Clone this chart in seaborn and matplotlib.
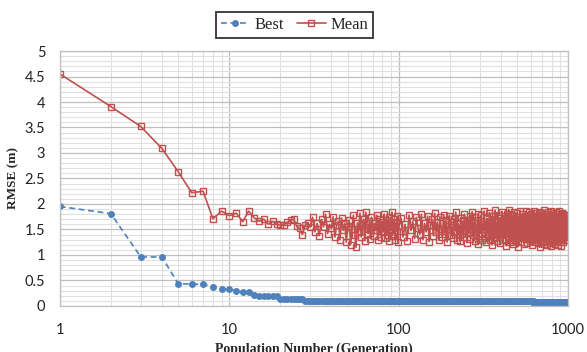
import numpy as np
import pandas as pd
import matplotlib
matplotlib.use("Agg")
import matplotlib.pyplot as plt
from matplotlib.ticker import FixedLocator, NullFormatter
import seaborn as sns

# ---------------- data ----------------
# Best RMSE: run-length encoded levels (generation 1..1000)
best_levels = [1.95, 1.81, 0.96, 0.96, 0.43, 0.43, 0.42, 0.38, 0.34, 0.33,
               0.29, 0.28, 0.27, 0.21, 0.20, 0.19, 0.13, 0.10, 0.07]
best_counts = [1, 1, 1, 1, 1, 1, 1, 1, 1, 1,
               1, 1, 1, 1, 1, 4, 8, 592, 381]

# Mean RMSE, generations 1..100 individually
mean_vals_a = [4.55, 3.91, 3.52, 3.09, 2.63, 2.22, 2.25, 1.71, 1.86, 1.77,
               1.82, 1.65, 1.86, 1.73, 1.66, 1.70, 1.60, 1.66, 1.60, 1.58,
               1.59, 1.64, 1.68, 1.70, 1.56, 1.52, 1.40, 1.58, 1.62, 1.55,
               1.74, 1.45, 1.62, 1.38, 1.70, 1.55, 1.80, 1.42, 1.60, 1.52,
               1.75, 1.35, 1.58, 1.66, 1.30, 1.72, 1.48, 1.62, 1.25, 1.55,
               1.68, 1.20, 1.50, 1.78, 1.40, 1.15, 1.63, 1.45, 1.82, 1.35,
               1.58, 1.70, 1.28, 1.84, 1.50, 1.42, 1.66, 1.32, 1.74, 1.55,
               1.38, 1.62, 1.48, 1.78, 1.30, 1.60, 1.52, 1.70, 1.36, 1.65,
               1.45, 1.80, 1.33, 1.58, 1.68, 1.40, 1.75, 1.27, 1.62, 1.50,
               1.84, 1.38, 1.55, 1.70, 1.30, 1.63, 1.46, 1.76, 1.25, 1.57]
# Mean RMSE, generations 103..1000 (every 3rd)
mean_vals_b = [
    1.72, 1.35, 1.60, 1.28, 1.78, 1.48, 1.66, 1.32, 1.74, 1.52, 1.40, 1.80, 1.30, 1.62, 1.45, 1.76, 1.26, 1.58, 1.70, 1.38,
    1.82, 1.44, 1.64, 1.29, 1.75, 1.50, 1.36, 1.79, 1.42, 1.68, 1.25, 1.60, 1.77, 1.40, 1.55, 1.33, 1.71, 1.47, 1.84, 1.30,
    1.62, 1.52, 1.27, 1.73, 1.41, 1.66, 1.35, 1.80, 1.49, 1.58, 1.24, 1.69, 1.44, 1.76, 1.31, 1.57, 1.85, 1.39, 1.63, 1.28,
    1.74, 1.46, 1.54, 1.22, 1.81, 1.37, 1.67, 1.43, 1.78, 1.29, 1.60, 1.50, 1.86, 1.34, 1.65, 1.26, 1.72, 1.45, 1.56, 1.38,
    1.83, 1.30, 1.61, 1.48, 1.20, 1.77, 1.42, 1.69, 1.33, 1.88, 1.51, 1.36, 1.64, 1.27, 1.79, 1.44, 1.58, 1.23, 1.73, 1.47,
    1.39, 1.85, 1.55, 1.29, 1.68, 1.41, 1.76, 1.32, 1.62, 1.18, 1.80, 1.46, 1.57, 1.35, 1.89, 1.43, 1.66, 1.25, 1.71, 1.52,
    1.30, 1.78, 1.44, 1.63, 1.21, 1.84, 1.49, 1.37, 1.70, 1.28, 1.59, 1.82, 1.40, 1.54, 1.16, 1.75, 1.46, 1.67, 1.33, 1.87,
    1.42, 1.58, 1.26, 1.73, 1.50, 1.35, 1.81, 1.45, 1.64, 1.22, 1.77, 1.38, 1.69, 1.31, 1.86, 1.48, 1.56, 1.24, 1.79, 1.40,
    1.61, 1.34, 1.84, 1.47, 1.27, 1.72, 1.53, 1.39, 1.80, 1.20, 1.66, 1.44, 1.75, 1.30, 1.58, 1.87, 1.36, 1.63, 1.25, 1.70,
    1.49, 1.82, 1.32, 1.60, 1.41, 1.76, 1.23, 1.68, 1.46, 1.85, 1.35, 1.57, 1.15, 1.78, 1.43, 1.65, 1.29, 1.83, 1.51, 1.38,
    1.71, 1.26, 1.62, 1.45, 1.88, 1.34, 1.59, 1.21, 1.74, 1.48, 1.37, 1.81, 1.42, 1.67, 1.28, 1.76, 1.53, 1.19, 1.69, 1.40,
    1.84, 1.31, 1.56, 1.47, 1.73, 1.24, 1.64, 1.39, 1.86, 1.45, 1.58, 1.17, 1.79, 1.35, 1.68, 1.50, 1.27, 1.82, 1.43, 1.61,
    1.33, 1.77, 1.48, 1.22, 1.70, 1.55, 1.38, 1.85, 1.30, 1.63, 1.44, 1.75, 1.26, 1.59, 1.81, 1.41, 1.66, 1.20, 1.72, 1.52,
    1.36, 1.87, 1.46, 1.29, 1.67, 1.42, 1.78, 1.34, 1.60, 1.18, 1.83, 1.49, 1.57, 1.31, 1.74, 1.45, 1.65, 1.25, 1.80, 1.39,
    1.62, 1.48, 1.71, 1.35, 1.79, 1.42, 1.58, 1.30, 1.76, 1.50, 1.66, 1.38, 1.73, 1.45, 1.60, 1.36, 1.70, 1.47, 1.64, 1.55,
]

x_ticks = [1, 10, 100, 1000]
x_tick_labels = ["1", "10", "100", "1000"]
y_ticks = [0, 0.5, 1, 1.5, 2, 2.5, 3, 3.5, 4, 4.5, 5]
y_tick_labels = ["0", "0.5", "1", "1.5", "2", "2.5", "3", "3.5", "4", "4.5", "5"]

best_y = np.repeat(best_levels, best_counts)
best_x = np.arange(1, len(best_y) + 1)
mean_x = np.concatenate([np.arange(1, 101), np.arange(103, 1001, 3)])
mean_y = np.array(mean_vals_a + mean_vals_b)

df_best = pd.DataFrame({"gen": best_x, "rmse": best_y})
df_mean = pd.DataFrame({"gen": mean_x, "rmse": mean_y})

# ---------------- style ----------------
sns.set_style("white")
serif = ["Liberation Serif", "DejaVu Serif"]
sans = ["Lato", "DejaVu Sans"]

blue = "#4F81BD"
red = "#C0504D"

fig = plt.figure(figsize=(5.87, 3.52), dpi=100)
ax = fig.add_axes([0.102, 0.131, 0.866, 0.724])

sns.lineplot(data=df_best, x="gen", y="rmse", ax=ax, color=blue, label="Best",
             estimator=None, sort=False, linewidth=1.2, linestyle=(0, (3.5, 2.2)),
             marker="o", markersize=5, markeredgewidth=0, markerfacecolor=blue)
sns.lineplot(data=df_mean, x="gen", y="rmse", ax=ax, color=red, label="Mean",
             estimator=None, sort=False, linewidth=1.2,
             marker="s", markersize=4.6, markeredgewidth=1.0,
             markerfacecolor="none", markeredgecolor=red)

ax.set_xscale("log")
ax.set_xlim(1, 1000)
ax.set_ylim(0, 5)

ax.xaxis.set_major_locator(FixedLocator(x_ticks))
ax.set_xticks(x_ticks)
ax.set_xticklabels(x_tick_labels)
ax.xaxis.set_minor_locator(FixedLocator([m * d for d in (1, 10, 100) for m in range(2, 10)]))
ax.xaxis.set_minor_formatter(NullFormatter())
ax.set_yticks(y_ticks)
ax.set_yticklabels(y_tick_labels)
ax.yaxis.set_minor_locator(FixedLocator([i / 10 for i in range(51) if i % 5 != 0]))

ax.grid(which="major", color="#BFBFBF", linewidth=0.9)
ax.grid(which="minor", color="#E0E0E0", linewidth=0.8)
ax.set_axisbelow(True)
for s in ax.spines.values():
    s.set_color("#BFBFBF")
    s.set_linewidth(0.9)

ax.tick_params(which="minor", length=0)
ax.tick_params(which="major", length=3.5, width=0.9, color="#BFBFBF", direction="out")
ax.tick_params(axis="y", pad=7)
ax.tick_params(axis="x", pad=9)
for lab in ax.get_xticklabels() + ax.get_yticklabels():
    lab.set_fontfamily(sans)
    lab.set_fontsize(10.5)
    lab.set_color("#222222")

ax.set_ylabel("RMSE (m)", fontfamily=serif, fontweight="bold", fontsize=9.5, labelpad=4)
ax.set_xlabel("Population Number (Generation)", fontfamily=serif, fontweight="bold",
              fontsize=10, labelpad=3.5)

leg = ax.legend(loc="center", bbox_to_anchor=(0.502, 0.93), bbox_transform=fig.transFigure,
                ncol=2, frameon=True, fancybox=False, handlelength=1.7, handletextpad=0.3,
                columnspacing=0.8, borderpad=0.3, prop={"family": serif, "size": 12})
leg.get_frame().set_edgecolor("black")
leg.get_frame().set_linewidth(1.3)

fig.savefig("out.png", dpi=100)
